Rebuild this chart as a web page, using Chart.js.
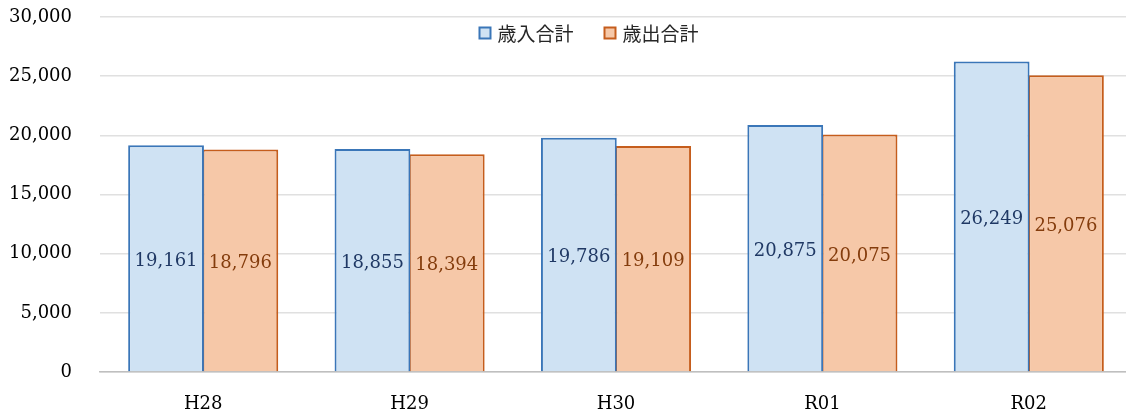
<!DOCTYPE html>
<html>
<head>
<meta charset="utf-8">
<script src="https://cdn.jsdelivr.net/npm/chart.js@4/dist/chart.umd.min.js"></script>
<style>
  html, body { margin: 0; padding: 0; background: #fff; overflow: hidden; }
  #wrap { width: 1132px; height: 416px; }
</style>
</head>
<body>
<div id="wrap"><canvas id="c" width="1132" height="416"></canvas></div>
<script>
// 年度別 歳入・歳出の合計（百万円）
const years = ['H28', 'H29', 'H30', 'R01', 'R02'];
const revenueTotal = [19161, 18855, 19786, 20875, 26249];
const expenditureTotal = [18796, 18394, 19109, 20075, 25076];
const yTicks = [0, 5000, 10000, 15000, 20000, 25000, 30000];
const seriesNames = ['歳入合計', '歳出合計'];

const numFont = '"DejaVu Serif", "Liberation Serif", serif';
const jpFont = '"Noto Sans CJK JP", "Noto Sans", sans-serif';

const fmt = v => v.toLocaleString('en-US');

// Value labels written at the middle of each bar
const barValueLabels = {
  id: 'barValueLabels',
  afterDatasetsDraw(chart, args, opts) {
    const ctx = chart.ctx;
    ctx.save();
    ctx.font = opts.font;
    ctx.textAlign = 'center';
    ctx.textBaseline = 'middle';
    chart.data.datasets.forEach((ds, i) => {
      const meta = chart.getDatasetMeta(i);
      ctx.fillStyle = opts.colors[i];
      meta.data.forEach((bar, j) => {
        const y = (bar.y + bar.base) / 2 + opts.offsetY;
        ctx.fillText(fmt(ds.data[j]), bar.x, y);
      });
    });
    ctx.restore();
  }
};

// Legend laid over the top of the plot area
const insideLegend = {
  id: 'insideLegend',
  afterDraw(chart, args, opts) {
    const ctx = chart.ctx;
    ctx.save();
    ctx.font = opts.font;
    ctx.textBaseline = 'middle';
    const items = chart.data.datasets.map(ds => ({
      text: ds.label, fill: ds.backgroundColor, stroke: ds.borderColor,
      w: opts.box + opts.boxGap + ctx.measureText(ds.label).width
    }));
    const total = items.reduce((s, it) => s + it.w, 0) + opts.itemGap * (items.length - 1);
    let x = opts.centerX - total / 2;
    const y = opts.y;
    items.forEach(it => {
      ctx.fillStyle = it.fill;
      ctx.fillRect(x, y - opts.box / 2, opts.box, opts.box);
      ctx.strokeStyle = it.stroke;
      ctx.lineWidth = 2;
      ctx.strokeRect(x, y - opts.box / 2, opts.box, opts.box);
      ctx.fillStyle = '#262626';
      ctx.fillText(it.text, x + opts.box + opts.boxGap, y + 1);
      x += it.w + opts.itemGap;
    });
    ctx.restore();
  }
};

new Chart(document.getElementById('c'), {
  type: 'bar',
  data: {
    labels: years,
    datasets: [
      {
        label: seriesNames[0],
        data: revenueTotal,
        backgroundColor: '#cfe2f3',
        borderColor: '#3a76b8',
        borderWidth: 2,
        categoryPercentage: 0.72,
        barPercentage: 1.02
      },
      {
        label: seriesNames[1],
        data: expenditureTotal,
        backgroundColor: '#f6c8a8',
        borderColor: '#c55d1c',
        borderWidth: 2,
        categoryPercentage: 0.72,
        barPercentage: 1.02
      }
    ]
  },
  options: {
    responsive: false,
    animation: false,
    layout: { padding: { top: 17, right: 0, bottom: 0, left: 0 } },
    plugins: {
      legend: { display: false },
      tooltip: { enabled: false },
      barValueLabels: {
        font: '18px ' + numFont,
        colors: ['#1f3864', '#843c0c'],
        offsetY: 3
      },
      insideLegend: {
        font: '19px ' + jpFont,
        centerX: 589,
        y: 33,
        box: 11,
        boxGap: 7,
        itemGap: 31
      }
    },
    scales: {
      x: {
        grid: { display: false, drawTicks: false },
        border: { display: true, color: '#bfbfbf', width: 1.5 },
        ticks: {
          color: '#000',
          font: { family: numFont, size: 18 },
          padding: 22
        },
        afterFit(scale) { scale.height = 44; }
      },
      y: {
        min: 0,
        max: 30000,
        afterBuildTicks(scale) { scale.ticks = yTicks.map(v => ({ value: v })); },
        grid: { color: '#e0e0e0', lineWidth: 1.5, drawTicks: false },
        border: { display: false },
        ticks: {
          color: '#000',
          font: { family: numFont, size: 18 },
          padding: 28,
          callback: v => fmt(v)
        },
        afterFit(scale) {
          scale.width = 100;
          scale.paddingTop = 0;
          scale.paddingBottom = 0;
        }
      }
    }
  },
  plugins: [barValueLabels, insideLegend]
});
</script>
</body>
</html>
